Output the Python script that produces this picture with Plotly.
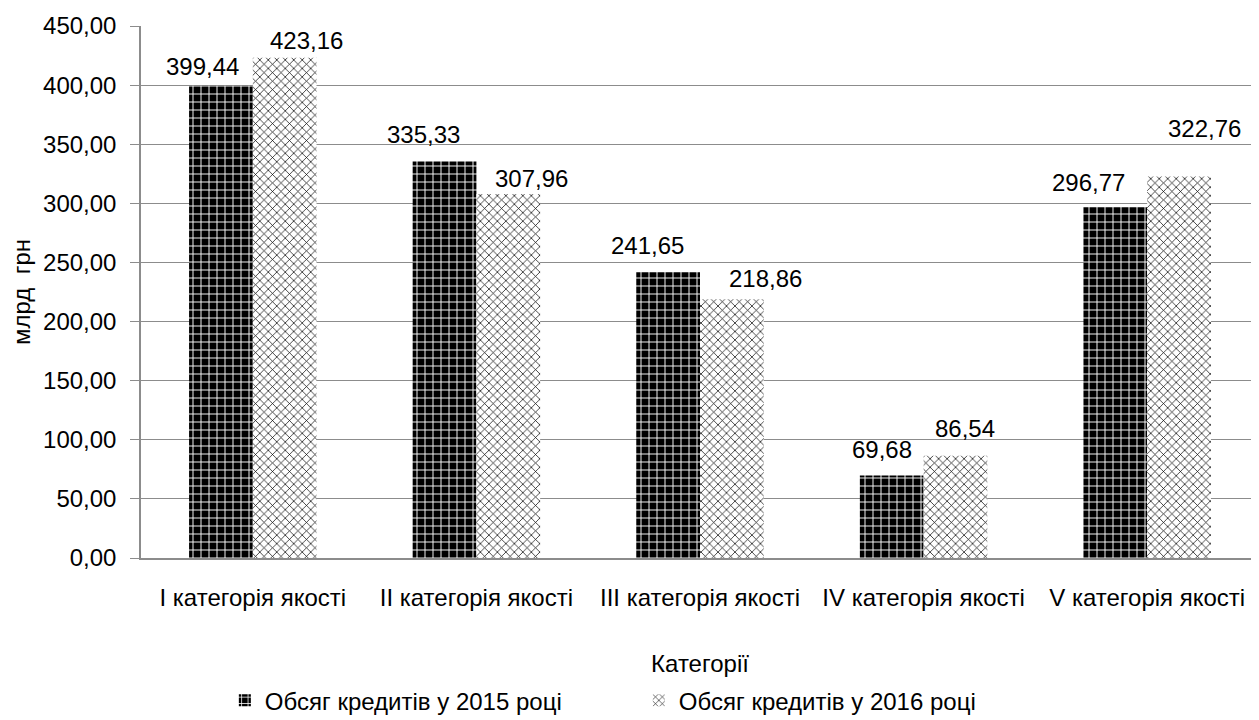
import plotly.graph_objects as go

categories = ["I категорія якості", "II категорія якості", "III категорія якості",
              "IV категорія якості", "V категорія якості"]
credits_2015 = [399.44, 335.33, 241.65, 69.68, 296.77]
credits_2016 = [423.16, 307.96, 218.86, 86.54, 322.76]
series_names = ["Обсяг кредитів у 2015 році", "Обсяг кредитів у 2016 році"]
y_ticks = [0, 50, 100, 150, 200, 250, 300, 350, 400, 450]

# data-label placement tweaks (pixels, relative to each bar's centre / top)
label_dx_2015 = [-18, -21, -21, -10, -27]
label_gap_2015 = [10, 18, 17, 17, 15]
label_dx_2016 = [22, 23, 34, 10, 25]
label_gap_2016 = [8, 6, 11, 18, 38]

font = "Liberation Sans, Arial, sans-serif"
FS = 24
W, H = 1251, 712
ML, MR, MT, MB = 133, 0, 18, 162
BARGAP = 0.43

fig = go.Figure()
fig.add_trace(go.Bar(
    x=categories, y=credits_2015, name=series_names[0],
    marker=dict(color="white", line=dict(width=0),
                pattern=dict(shape="+", bgcolor="black", fgcolor="white",
                             size=8, solidity=0.22, fillmode="replace")),
))
fig.add_trace(go.Bar(
    x=categories, y=credits_2016, name=series_names[1],
    marker=dict(color="white", line=dict(width=0),
                pattern=dict(shape="x", bgcolor="white", fgcolor="black",
                             size=6, solidity=0.22, fillmode="replace")),
))

# data labels as annotations anchored on the category/value through the axes
cat_px = (W - ML - MR) / len(categories)
bar_off = (1 - BARGAP) * cat_px / 4
for vals, dxs, gaps, sign in [(credits_2015, label_dx_2015, label_gap_2015, -1),
                              (credits_2016, label_dx_2016, label_gap_2016, 1)]:
    for c, v, dx, g in zip(categories, vals, dxs, gaps):
        fig.add_annotation(
            x=c, y=v, xref="x", yref="y", text=f"{v:.2f}".replace(".", ","),
            showarrow=False, xanchor="center", yanchor="bottom",
            xshift=sign * bar_off + dx, yshift=g - 6,
            font=dict(size=FS, color="black", family=font),
        )

fig.update_layout(
    width=W, height=H,
    paper_bgcolor="white", plot_bgcolor="white",
    separators=", ",
    font=dict(family=font, size=FS, color="black"),
    margin=dict(l=ML, r=MR, t=MT, b=MB, autoexpand=False),
    barmode="group", bargap=BARGAP, bargroupgap=0,
    showlegend=True,
    legend=dict(orientation="h", x=0.075, xanchor="left", y=-0.226, yanchor="top",
                font=dict(size=FS), itemwidth=30, entrywidth=369,
                traceorder="normal", bgcolor="rgba(0,0,0,0)"),
    xaxis=dict(
        title=dict(text="Категорії", font=dict(size=FS), standoff=46),
        automargin=False, tickangle=0, ticklabelstandoff=17,
        showline=True, linecolor="#8c8c8c", linewidth=1.5,
        tickfont=dict(size=FS), ticks="",
    ),
    yaxis=dict(
        title=dict(text="млрд  грн", font=dict(size=FS), standoff=8),
        automargin=False, ticklabelstandoff=9,
        range=[0, 450], tickvals=y_ticks, tickformat=".2f",
        showline=True, linecolor="#8c8c8c", linewidth=1.5,
        ticks="outside", ticklen=9, tickcolor="#8c8c8c",
        showgrid=True, gridcolor="#8c8c8c", gridwidth=1,
        zeroline=False, tickfont=dict(size=FS),
    ),
)

fig.write_html("out.html")
